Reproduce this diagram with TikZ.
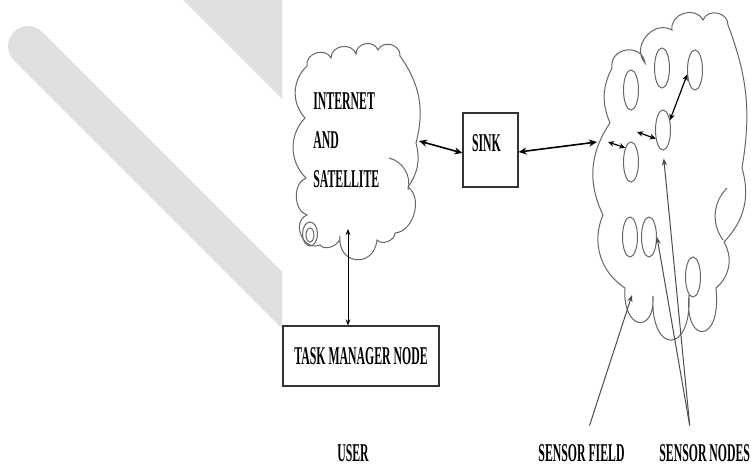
\documentclass[tikz,border=0pt]{standalone}
\usepackage{fontspec}
\newfontfamily\condfont[FakeStretch=0.46]{Liberation Serif}
\usetikzlibrary{arrows.meta,shapes.geometric}

\begin{document}
\begin{tikzpicture}[x=0.5pt,y=-0.5pt,
    cloudline/.style={draw=black!60,line width=0.5pt},
    oval/.style={ellipse,draw=black!60,line width=0.5pt,minimum width=7.5pt,minimum height=20pt,inner sep=0pt},
    box/.style={draw=black!80,line width=0.6pt,font=\condfont\bfseries\fontsize{12.8}{14}\selectfont},
    lbl/.style={font=\condfont\bfseries\fontsize{12.8}{14}\selectfont,inner sep=1pt},
    link/.style={{Stealth[length=4pt,width=3.5pt]}-{Stealth[length=4pt,width=3.5pt]},line width=0.8pt},
    smalllink/.style={{Stealth[length=3pt,width=2.8pt]}-{Stealth[length=3pt,width=2.8pt]},line width=0.6pt},
    thinlink/.style={{Stealth[length=3pt,width=2.4pt]}-{Stealth[length=3pt,width=2.4pt]},line width=0.5pt},
    pointer/.style={-{Stealth[length=3.5pt,width=2.6pt]},draw=black!70,line width=0.5pt}]
  \useasboundingbox (0,0) rectangle (751,466);

  % watermark bands
  \fill[black!12] (183,0) -- (282,99) -- (282,0) -- cycle;
  \begin{scope}
    \clip (0,0) rectangle (282,466);
    \draw[black!12,line width=20pt,line cap=round] (28,46) -- (360,378);
  \end{scope}

  % internet cloud
  \draw[cloudline] (307,66) to[bend left=80,looseness=1.3] (331,58)
    to[bend left=80,looseness=1.3] (356,54)
    to[bend left=80,looseness=1.3] (378,50)
    to[bend left=80,looseness=1.3] (400,56)
    to[bend left=25] (416,143)
    to[bend left=25] (408,187)
    to[bend left=70] (395,233)
    to[bend left=70] (377,240)
    to[bend left=90,looseness=2] (340,236)
    to[bend left=80] (320,245)
    to[bend left=90,looseness=1.4] (307,215)
    to[bend left=70] (306,178)
    to[bend left=45] (305,118)
    to[bend left=45] (307,66);
  \draw[cloudline] (389,158) to[bend left=45] (408,190);
  \draw[cloudline] (310,235) ellipse [x radius=4, y radius=7];
  \draw[cloudline] (310,234) ellipse [x radius=7.5, y radius=12];
  \node[lbl,inner sep=0pt,anchor=north west,align=left,
    font=\condfont\bfseries\fontsize{12.8}{19.5}\selectfont] (inet) at (313,92)
    {INTERNET\\AND\\SATELLITE};

  % sensor field cloud
  \draw[cloudline] (610,123) to[bend left=25] (612,68)
    to[bend left=90,looseness=1.6] (645,63)
    to[bend left=80,looseness=1.3] (672,30)
    to[bend left=80,looseness=1.3] (703,20)
    to[bend left=80,looseness=1.3] (728,25)
    to[bend left=15] (742,168)
    to[bend left=30] (724,242)
    to[bend left=40] (716,288)
    .. controls (722,345) and (684,345) .. (689,295)
    .. controls (692,355) and (650,355) .. (653,296)
    .. controls (655,335) and (622,330) .. (625,288)
    to[bend left=40] (603,215)
    to[bend left=30] (610,123);
  \draw[cloudline] (727,188) to[bend right=40] (723,240);

  % sensor nodes
  \node[oval] (s1) at (631,90) {};
  \node[oval] (s2) at (662,68) {};
  \node[oval] (s3) at (695,70) {};
  \node[oval] (s4) at (663,130) {};
  \node[oval] (s5) at (631,162) {};
  \node[oval] (s6) at (630,237) {};
  \node[oval] (s7) at (649,237) {};
  \node[oval] (s8) at (693,277) {};

  % boxes
  \node[box,minimum width=27.5pt,minimum height=37pt,text width=18.5pt,align=left,
    inner xsep=4.5pt,text height=8.5pt,text depth=7.5pt] (sink) at (490.5,150) {SINK};
  \node[box,minimum width=78pt,minimum height=30pt] (task) at (361,356) {TASK MANAGER NODE};

  % labels
  \node[lbl,anchor=base] (user) at (353,461) {USER};
  \node[lbl,anchor=base] (fieldlbl) at (581.5,461) {SENSOR FIELD};
  \node[lbl,anchor=base west] (nodeslbl) at (657,461) {SENSOR NODES};

  \coordinate (net-e) at (419,141);
  \coordinate (net-s) at (348,229);
  \coordinate (field-w) at (597,142);
  \coordinate (field-in) at (608,142);
  \coordinate (field-mid) at (637,132);
  \coordinate (field-s) at (632,295);

  % links
  \draw[link] (net-e) -- ([yshift=-1.5pt]sink.west);
  \draw[link] ([yshift=-1pt]sink.east) -- (field-w);
  \draw[thinlink] (net-s) -- (net-s |- task.north);
  \draw[smalllink] (field-in) -- (s5.112);
  \draw[smalllink] (field-mid) -- (s4.230);
  \draw[smalllink] (s4.55) -- (s3.210);
  \draw[pointer] ([xshift=4pt,yshift=8pt]fieldlbl.north) -- (field-s);
  \draw[pointer,shorten >=4pt] ([xshift=-7.5pt,yshift=8pt]nodeslbl.north) -- (s4.south);
  \draw[pointer] ([xshift=-7.5pt,yshift=8pt]nodeslbl.north) -- (s7.east);
\end{tikzpicture}
\end{document}
